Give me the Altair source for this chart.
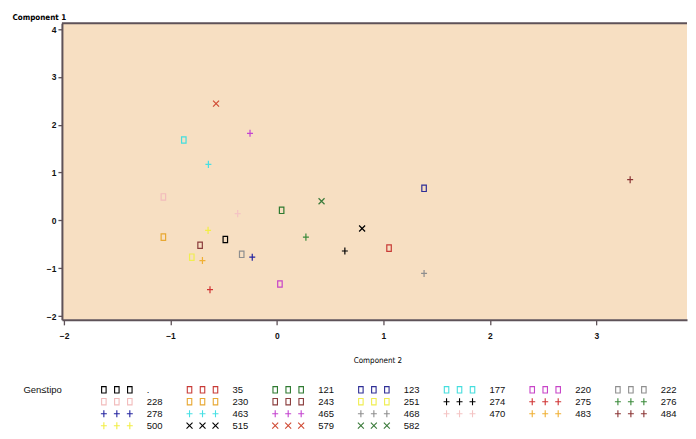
import altair as alt
import pandas as pd

# ---------------- data ----------------
genotypes = [".", "35", "121", "123", "177", "220", "222", "228", "230", "243", "251",
             "274", "275", "276", "278", "463", "465", "468", "470", "483", "484", "500",
             "515", "579", "582"]
component2 = [-0.485, 1.053, 0.044, 1.382, -0.875, 0.028, -0.331, -1.067, -1.067, -0.722, -0.80,
              0.638, -0.629, 0.272, -0.232, -0.644, -0.253, 1.382, -0.369, -0.70, 3.318, -0.647,
              0.80, -0.572, 0.419]
component1 = [-0.40, -0.58, 0.21, 0.67, 1.68, -1.33, -0.71, 0.49, -0.35, -0.52, -0.77,
              -0.64, -1.45, -0.35, -0.77, 1.17, 1.82, -1.11, 0.14, -0.84, 0.85, -0.21,
              -0.17, 2.44, 0.40]
symbol_kind = ["square"] * 11 + ["plus"] * 11 + ["x"] * 3
colors = ["#000000", "#c83a36", "#2e7a30", "#2e2e96", "#44dede", "#c844c8", "#8e8e8e",
          "#f2bcbc", "#e8a832", "#8a3c3c", "#f0ee50",
          "#000000", "#d03434", "#3a8a3a", "#2424a0", "#48e0e4", "#c444d0", "#8e8e8e",
          "#f4c4c4", "#f0b034", "#8a3434", "#f2ee44",
          "#000000", "#d04a34", "#3a7a3a"]
x_ticks = [-2, -1, 0, 1, 2, 3]
y_ticks = [-2, -1, 0, 1, 2, 3, 4]

# ---------------- styling / layout constants ----------------
X_DOMAIN = [-2.02, 3.852]
Y_DOMAIN = [-2.08, 4.12]
PLOT_W, PLOT_H = 626, 297
BG = "#f7dfc2"
FRAME = "#5e5258"
FONT = "Liberation Sans"
NARROW = "DejaVu Sans Condensed, Liberation Sans, sans-serif"
SHAPE_PATHS = {
    "square": "M-0.6,-0.85H0.6V0.85H-0.6Z",
    "plus": "M-0.8,0H0.8M0,-0.95V0.95",
    "x": "M-0.8,-0.8L0.8,0.8M-0.8,0.8L0.8,-0.8",
}
LEG_COLS = 7
LEG_STEP = 85.8
LEG_SYM0 = 55
LEG_SYM_GAP = 13
LEG_LAB0 = 85

df = pd.DataFrame({"gen": genotypes, "c2": component2, "c1": component1})

color_scale = alt.Scale(domain=genotypes, range=colors)
shape_scale = alt.Scale(domain=genotypes, range=[SHAPE_PATHS[k] for k in symbol_kind])

x_axis = alt.Axis(values=x_ticks, title="Component 2", titleX=316, titleY=41,
                  titleFont=NARROW, titleFontSize=8, titleFontWeight="normal",
                  titleBaseline="middle", titleAlign="center",
                  labelFont=FONT, labelFontSize=8.5, labelFontWeight="bold", labelPadding=7,
                  domainColor=FRAME, domainWidth=2, tickColor=FRAME, tickWidth=1.3, tickSize=5,
                  grid=False, labelColor="#111")
y_axis = alt.Axis(values=y_ticks, title="Component 1", titleAngle=0, titleX=-50, titleY=-6,
                  titleAlign="left", titleBaseline="middle",
                  titleFont=NARROW, titleFontSize=8, titleFontWeight="bold",
                  labelFont=FONT, labelFontSize=8.5, labelFontWeight="bold", labelPadding=2,
                  domainColor=FRAME, domainWidth=2, tickColor=FRAME, tickWidth=1.3, tickSize=4,
                  grid=False, labelColor="#111")

xs = alt.Scale(domain=X_DOMAIN, nice=False, zero=False)
ys = alt.Scale(domain=Y_DOMAIN, nice=False, zero=False)

pts = alt.Chart(df).mark_point(filled=False, size=56, strokeWidth=1.2, opacity=1).encode(
    x=alt.X("c2:Q", scale=xs, axis=x_axis),
    y=alt.Y("c1:Q", scale=ys, axis=y_axis),
    color=alt.Color("gen:N", scale=color_scale, legend=None),
    shape=alt.Shape("gen:N", scale=shape_scale, legend=None),
)
top_edge = alt.Chart(pd.DataFrame({"c1": [Y_DOMAIN[1]]})).mark_rule(
    color=FRAME, strokeWidth=2).encode(y=alt.Y("c1:Q", scale=ys, axis=y_axis))

plot = alt.layer(pts, top_edge).properties(
    width=PLOT_W, height=PLOT_H, view=alt.ViewBackground(fill=BG, stroke=None))

# ---------------- legend grid ----------------
sym_rows, lab_rows = [], []
for i, g in enumerate(genotypes):
    col, row = i % LEG_COLS, i // LEG_COLS
    for j in (-1, 0, 1):
        sym_rows.append({"gen": g, "lx": LEG_SYM0 + LEG_STEP * col + j * LEG_SYM_GAP, "row": row})
    lab_rows.append({"gen": g, "lx": LEG_LAB0 + LEG_STEP * col, "row": row})
sym_df = pd.DataFrame(sym_rows)
lab_df = pd.DataFrame(lab_rows)

lx_scale = alt.Scale(domain=[0, PLOT_W], nice=False, zero=False)
row_scale = alt.Scale(type="point", padding=0)
leg_axis = alt.Axis(title="Gen≤tipo", labels=False, ticks=False, domain=False, grid=False,
                    titleAngle=0, titleX=-39, titleY=0, titleAlign="left", titleBaseline="middle",
                    titleFont=FONT, titleFontSize=9.5, titleFontWeight="normal", titleColor="#111")

leg_syms = alt.Chart(sym_df).mark_point(filled=False, size=56, strokeWidth=1.1, opacity=1).encode(
    x=alt.X("lx:Q", scale=lx_scale, axis=None),
    y=alt.Y("row:O", scale=row_scale, axis=leg_axis),
    color=alt.Color("gen:N", scale=color_scale, legend=None),
    shape=alt.Shape("gen:N", scale=shape_scale, legend=None),
)
leg_text = alt.Chart(lab_df).mark_text(align="left", baseline="middle", font=FONT,
                                       fontSize=9.5, color="#111").encode(
    x=alt.X("lx:Q", scale=lx_scale, axis=None),
    y=alt.Y("row:O", scale=row_scale, axis=leg_axis),
    text="gen:N",
)
legend = alt.layer(leg_syms, leg_text).properties(width=PLOT_W, height=36)

chart = alt.vconcat(plot, legend, spacing=70, bounds="flush").properties(
    padding={"left": 4, "top": 5, "right": 0, "bottom": 2},
    background="white",
).configure_view(stroke=None)

chart.save("out.html", embed_options={"renderer": "svg", "actions": False})
